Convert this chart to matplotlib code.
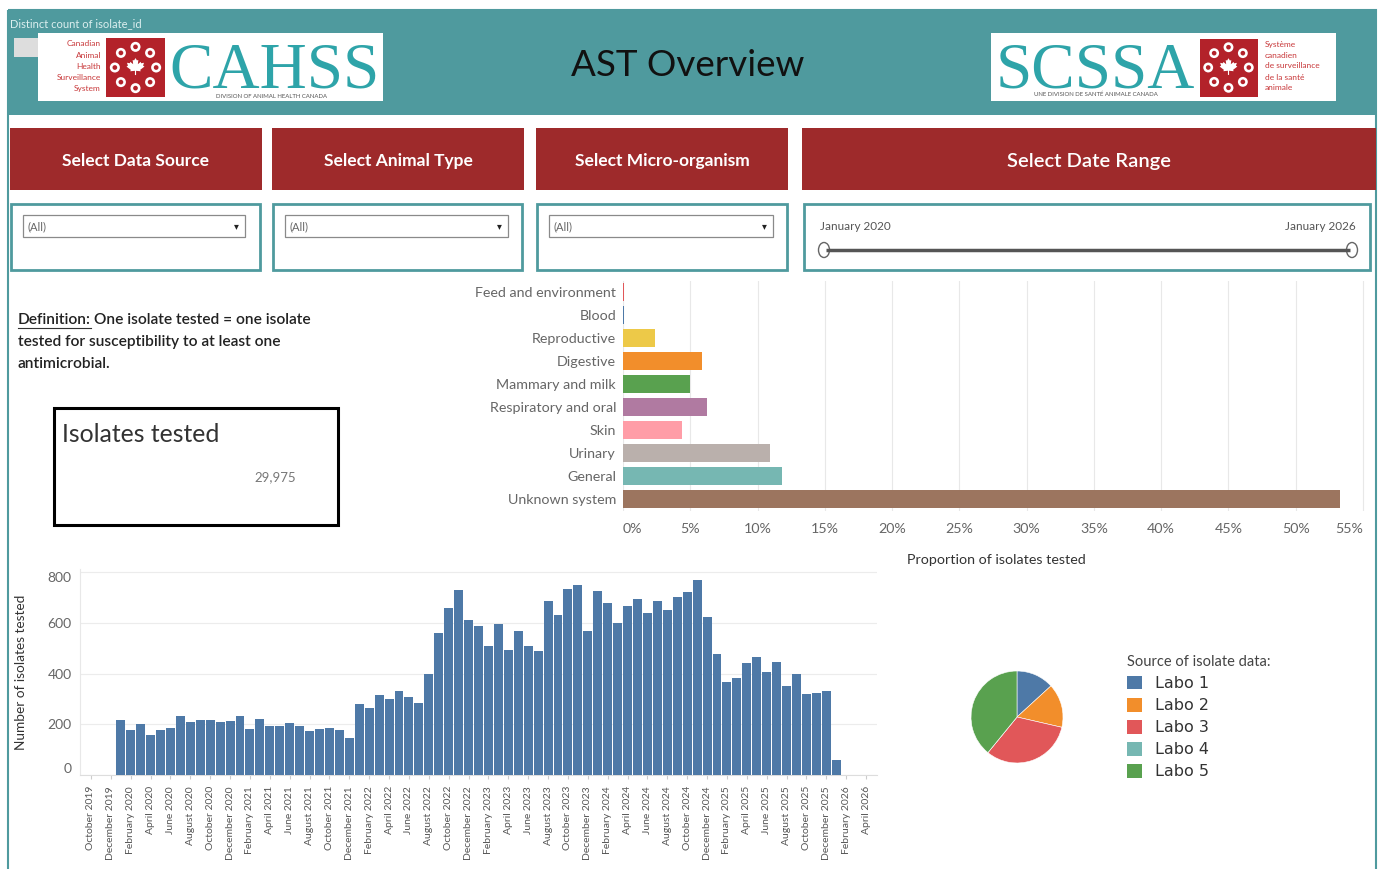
import numpy as np
import pandas as pd
import matplotlib
matplotlib.use("Agg")
import matplotlib.pyplot as plt
from matplotlib.patches import Rectangle, Circle, Polygon, Ellipse, Patch

plt.rcParams["font.family"] = ["Lato", "DejaVu Sans"]

# ---------------- data ----------------
body_systems = ["Feed and environment", "Blood", "Reproductive", "Digestive",
                "Mammary and milk", "Respiratory and oral", "Skin", "Urinary",
                "General", "Unknown system"]
body_share = [0.1, 0.05, 2.4, 5.9, 4.95, 6.25, 4.35, 10.95, 11.85, 53.3]
body_colors = ["#e15759", "#4e79a7", "#edc948", "#f28e2b", "#59a14f", "#b07aa1",
               "#ff9da7", "#bab0ac", "#76b7b2", "#9c755f"]
share_ticks = [0, 5, 10, 15, 20, 25, 30, 35, 40, 45, 50, 55]

months = pd.date_range("2020-01-01", "2026-01-01", freq="MS")
monthly_isolates = [
    217, 178, 200, 159, 178, 184, 233, 208, 217, 217, 208, 213,   # 2020
    233, 182, 222, 195, 195, 204, 195, 172, 182, 187, 178, 145,   # 2021
    278, 263, 316, 301, 333, 307, 282, 400, 559, 660, 730, 612,   # 2022
    588, 507, 595, 493, 566, 507, 487, 684, 629, 733, 747, 566,   # 2023
    725, 678, 599, 667, 693, 638, 684, 651, 701, 721, 767, 624,   # 2024
    478, 368, 384, 441, 464, 405, 447, 351, 397, 318, 322, 332,   # 2025
    59,                                                           # 2026
]
month_tick_dates = pd.date_range("2019-10-01", "2026-04-01", freq="2MS")
month_tick_labels = [d.strftime("%B %Y") for d in month_tick_dates]
count_ticks = [0, 200, 400, 600, 800]

labs = ["Labo 1", "Labo 2", "Labo 3", "Labo 4", "Labo 5"]
lab_share = [13.2, 15.4, 32.3, 0.0, 39.1]
lab_colors = ["#4e79a7", "#f28e2b", "#e15759", "#76b7b2", "#59a14f"]

total_isolates = 29975

filter_titles = ["Select Data Source", "Select Animal Type", "Select Micro-organism"]
date_range_labels = ["January 2020", "January 2026"]

# ---------------- figure ----------------
W, H = 1384, 869
fig = plt.figure(figsize=(W / 100, H / 100), dpi=100)
fig.patch.set_facecolor("white")


def px_axes(x0, y0, x1, y1):
    return fig.add_axes([x0 / W, 1 - y1 / H, (x1 - x0) / W, (y1 - y0) / H])


bg = px_axes(0, 0, W, H)
bg.set_xlim(0, W)
bg.set_ylim(H, 0)
bg.axis("off")

TEAL = "#4f9a9e"
RED = "#9e2a2b"
LOGO_TEAL = "#2ea4a9"
LOGO_RED = "#b3222a"


def rect(x0, y0, x1, y1, **kw):
    bg.add_patch(Rectangle((x0, y0), x1 - x0, y1 - y0, **kw))


MAPLE = [(0, 1.0), (0.15, 0.75), (0.3, 0.8), (0.25, 0.35), (0.55, 0.6), (0.6, 0.45),
         (0.9, 0.5), (0.8, 0.2), (0.95, 0.1), (0.5, -0.25), (0.55, -0.4), (0.06, -0.35),
         (0.06, -0.8), (-0.06, -0.8), (-0.06, -0.35), (-0.55, -0.4), (-0.5, -0.25),
         (-0.95, 0.1), (-0.8, 0.2), (-0.9, 0.5), (-0.6, 0.45), (-0.55, 0.6),
         (-0.25, 0.35), (-0.3, 0.8), (-0.15, 0.75)]


def seal(cx, cy, size):
    half = size / 2
    rect(cx - half, cy - half, cx + half, cy + half, facecolor=LOGO_RED, edgecolor="none")
    for k in range(8):
        a = np.pi / 2 + k * np.pi / 4
        px, py = cx + 0.35 * size * np.cos(a), cy - 0.35 * size * np.sin(a)
        bg.add_patch(Circle((px, py), 0.085 * size, facecolor="white", edgecolor="none"))
        bg.add_patch(Circle((px, py), 0.04 * size, facecolor=LOGO_RED, edgecolor="none"))
    leaf = np.array(MAPLE) * 0.16 * size
    bg.add_patch(Polygon(np.c_[cx + leaf[:, 0], cy - leaf[:, 1]], closed=True,
                         facecolor="white", edgecolor="none"))


# outer frame and header band
rect(8, 10, 1376, 875, facecolor="none", edgecolor=TEAL, lw=1.5)
rect(8, 10, 1376, 115, facecolor=TEAL, edgecolor="none")
bg.text(10, 24, "Distinct count of isolate_id", fontsize=8, color="#dcefef",
        ha="left", va="center")
rect(14, 38, 38, 57, facecolor="#dddddd", edgecolor="none")

# CAHSS logo
rect(38, 33, 383, 101, facecolor="white", edgecolor="none")
for i, w in enumerate(["Canadian", "Animal", "Health", "Surveillance", "System"]):
    bg.text(101, 44 + i * 11.2, w, fontsize=6, color="#c8383a", ha="right", va="center")
seal(135.5, 67.5, 59)
bg.text(274, 88, "CAHSS", family="Liberation Serif", fontsize=47, color=LOGO_TEAL,
        ha="center", va="baseline")
bg.text(272, 96.5, "DIVISION OF ANIMAL HEALTH CANADA", fontsize=4.3, color="#555",
        ha="center", va="center")

# SCSSA logo
rect(991, 33, 1336, 101, facecolor="white", edgecolor="none")
bg.text(1095, 87, "SCSSA", family="Liberation Serif", fontsize=47, color=LOGO_TEAL,
        ha="center", va="baseline")
bg.text(1096, 94.5, "UNE DIVISION DE SANTÉ ANIMALE CANADA", fontsize=4.3, color="#555",
        ha="center", va="center")
seal(1228.5, 67.5, 58)
for i, w in enumerate(["Système", "canadien", "de surveillance", "de la santé", "animale"]):
    bg.text(1265, 44 + i * 11, w, fontsize=6, color="#c8383a", ha="left", va="center")

# title
bg.text(688, 65, "AST Overview", fontsize=26.5, color="#111", ha="center", va="center")

# filter headers
hdr_boxes = [(10, 262), (272, 524), (536, 788)]
for (x0, x1), t in zip(hdr_boxes, filter_titles):
    rect(x0, 128, x1, 190, facecolor=RED, edgecolor="none")
    bg.text((x0 + x1) / 2, 161, t, fontsize=12.5, fontweight="bold", color="white",
            ha="center", va="center")
rect(802, 128, 1376, 190, facecolor=RED, edgecolor="none")
bg.text(1089, 162, "Select Date Range", fontsize=14.5, fontweight="semibold",
        color="white", ha="center", va="center")

# filter boxes
for (x0, x1) in [(11, 260), (273, 522), (537, 787), (804, 1370)]:
    rect(x0, 204, x1, 270, facecolor="white", edgecolor=TEAL, lw=2)
for (x0, x1) in [(23, 245), (285, 508), (549, 773)]:
    rect(x0 + 1, 216, x1 + 1, 238, facecolor="#cfcfcf", edgecolor="none")
    rect(x0, 215, x1, 237, facecolor="white", edgecolor="#8a8a8a", lw=0.9)
    bg.text(x0 + 5, 226.5, "(All)", fontsize=8, color="#666", ha="left", va="center")
    bg.text(x1 - 9, 226, "▾", family="DejaVu Sans", fontsize=7, color="#222",
            ha="center", va="center")

bg.text(820, 226, date_range_labels[0], fontsize=8.5, color="#555", ha="left", va="center")
bg.text(1356, 226, date_range_labels[1], fontsize=8.5, color="#555", ha="right", va="center")
bg.plot([826, 1350], [250, 250], color="#555", lw=2.5, solid_capstyle="butt")
for hx in (824, 1352):
    bg.add_patch(Ellipse((hx, 250), 11, 15, facecolor="white", edgecolor="#666", lw=1))

# definition text
DEF_FS = 11.2
r = fig.canvas.get_renderer()
t1 = bg.text(18, 320, "Definition:", fontsize=DEF_FS, fontweight="semibold", color="#222",
             ha="left", va="center")
bb = t1.get_window_extent(renderer=r)
bg.plot([18, bb.x1], [328, 328], color="#333", lw=0.8)
bg.text(bb.x1 + 3, 320, "One isolate tested = one isolate", fontsize=DEF_FS,
        fontweight="semibold", color="#222", ha="left", va="center")
bg.text(18, 342, "tested for susceptibility to at least one", fontsize=DEF_FS,
        fontweight="semibold", color="#222", ha="left", va="center")
bg.text(18, 364, "antimicrobial.", fontsize=DEF_FS, fontweight="semibold", color="#222",
        ha="left", va="center")

# KPI box
rect(54, 408, 338, 525, facecolor="white", edgecolor="black", lw=2.2)
bg.text(62, 435, "Isolates tested", fontsize=17.8, color="#333", ha="left", va="center")
bg.text(296, 477, f"{total_isolates:,}", fontsize=9.5, color="#777", ha="right", va="center")

# ---------------- horizontal bar chart ----------------
axb = px_axes(623, 280.5, 1369, 510.5)
ypos = np.arange(len(body_systems))
axb.barh(ypos, body_share, height=0.74, color=body_colors, zorder=3)
axb.set_ylim(len(body_systems) - 0.5, -0.5)
axb.set_xlim(0, 55.45)
axb.set_xticks(share_ticks)
axb.set_xticklabels([f"{v}%" for v in share_ticks])
axb.set_yticks(ypos)
axb.set_yticklabels(body_systems)
axb.tick_params(axis="both", length=0, labelsize=10.3, labelcolor="#666")
axb.tick_params(axis="y", pad=5)
axb.tick_params(axis="x", pad=9)
axb.set_axisbelow(True)
axb.grid(axis="x", color="#e8e8e8", lw=0.8)
for s in axb.spines.values():
    s.set_visible(False)
xl = axb.get_xticklabels()
xl[0].set_ha("left")
xl[-1].set_ha("right")
axb.set_xlabel("Proportion of isolates tested", fontsize=10.3, color="#333", labelpad=14)

# ---------------- monthly histogram ----------------
axh = px_axes(80, 569, 877, 775)
xi = [(d.year - 2020) * 12 + d.month - 1 for d in months]
axh.bar(xi, monthly_isolates, width=0.9, color="#4e79a7", zorder=3)
axh.set_xlim(-4.1, 76.1)
axh.set_ylim(0, 812)
tick_idx = [(d.year - 2020) * 12 + d.month - 1 for d in month_tick_dates]
axh.set_xticks(tick_idx)
axh.set_xticklabels(month_tick_labels, rotation=90, fontsize=7.5, color="#555")
axh.set_yticks(count_ticks)
axh.tick_params(axis="y", length=0, labelsize=10, labelcolor="#666", pad=6)
axh.tick_params(axis="x", length=3, color="#cccccc", pad=5)
axh.set_axisbelow(True)
axh.grid(axis="y", color="#ececec", lw=0.8)
axh.spines["top"].set_visible(False)
axh.spines["right"].set_visible(False)
axh.spines["left"].set_color("#e8e8e8")
axh.spines["bottom"].set_color("#dddddd")
yl = axh.get_yticklabels()
yl[0].set_va("bottom")
yl[-1].set_va("top")
axh.set_ylabel("Number of isolates tested", fontsize=9.8, color="#333")
axh.yaxis.set_label_coords((27 - 80) / 797, 0.5)

# ---------------- pie ----------------
axp = px_axes(971, 671, 1063, 763)
axp.pie(lab_share, colors=lab_colors, startangle=90, counterclock=False,
        wedgeprops=dict(edgecolor="white", linewidth=0.4))
axp.set_xlim(-1, 1)
axp.set_ylim(-1, 1)
axp.set_aspect("equal")

handles = [Patch(facecolor=c, edgecolor="none") for c in lab_colors]
leg = fig.legend(handles, labs, loc="upper left", bbox_to_anchor=(1127 / W, 1 - 655 / H),
                 frameon=False, title="Source of isolate data:", alignment="left",
                 prop={"family": "DejaVu Sans", "size": 11.5},
                 title_fontproperties={"family": "Lato", "size": 10.5},
                 handlelength=0.95, handleheight=0.95, handletextpad=0.8,
                 labelspacing=0.42, borderpad=0, borderaxespad=0)
leg.get_title().set_color("#444")
for t in leg.get_texts():
    t.set_color("#333")

fig.savefig("out.png", dpi=100)
